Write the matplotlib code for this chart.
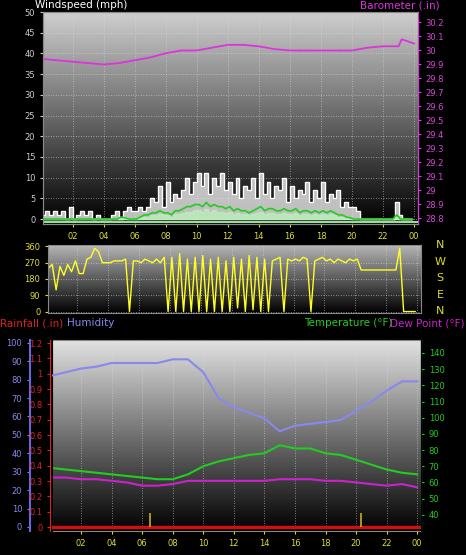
import numpy as np
import matplotlib
matplotlib.use("Agg")
import matplotlib.pyplot as plt

q = np.arange(96) * 0.25 + 0.125
gust = [1,2,1,2,1,2,0,3, 0,1,2,1,2,0,1,0, 0,0,1,2,0,2,3,2, 2,3,2,3,5,4,8,3,
        9,4,6,5,7,10,6,9, 11,8,11,6,10,8,11,7, 9,6,10,5,8,7,10,5, 11,6,9,5,8,7,10,4,
        8,5,7,6,9,4,7,5, 9,4,6,5,7,3,4,3, 3,2,0,0,0,0,0,0, 0,0,0,4,1,0,0,0]
avg = [0,0,0,0,0,0,0,0, 0,0,0,0,0,0,0,0, 0,0,0,0,0.5,0.3,0,0, 0,0.5,1,1,1.5,1.5,2,1.5,
       1.5,1,2,2,2.5,3,3,3.5, 3.5,3,4,3,3.5,3,3,2.5, 3,2,2.5,2,2,1.5,2,2.5, 3,2,2.5,2.5,2,2,2.5,2,
       2,2.5,1.5,2,2,1.5,2,1.5, 2,1.5,2,1.5,1,1,0.5,0.3, 0,0,0,0,0,0,0,0, 0,0,0,1,0,0,0,0]
wdir = [240,260,120,250,200,260,220,280, 210,210,290,300,350,330,270,270,
        270,280,280,280,290,0,280,280, 270,290,280,270,290,270,300,0,
        300,0,320,0,290,0,300,0, 310,0,290,0,300,0,280,0,
        300,20,290,0,310,10,300,0, 290,0,280,290,300,0,290,280,
        290,280,300,290,0,280,290,300, 280,290,270,290,280,270,290,280,
        290,230,230,230,230,230,230,230, 230,230,230,350,0,0,0,0]
baro_h = [0,1,2,3,4,5,6,7,8,9,10,11,12,13,14,15,16,17,18,19,20,21,22,23,23.2,24]
baro = [29.94,29.93,29.92,29.91,29.90,29.91,29.93,29.95,29.98,30.00,30.00,30.02,30.04,30.04,
        30.03,30.01,30.00,30.00,30.00,30.00,30.00,30.02,30.03,30.03,30.08,30.05]
hours = list(range(25))
hum = [82,84,86,87,89,89,89,89,91,91,84,70,65,62,59,52,55,56,57,58,63,68,74,79,79]
temp = [69,68,67,66,65,64,63,62,62,65,70,73,75,77,78,83,81,81,78,77,74,71,68,66,65]
dew = [63,63,62,62,61,60,58,58,59,61,61,61,61,61,61,62,62,62,61,61,60,59,58,59,57]
rain_marks = [6.5, 20.3]
xt = [2,4,6,8,10,12,14,16,18,20,22,24]
xtl = ["02","04","06","08","10","12","14","16","18","20","22","00"]

FS = 6
W, H = 466, 555
fig = plt.figure(figsize=(W/100, H/100), dpi=100, facecolor="black")
def ax_at(l, t, r, b):
    return fig.add_axes([l/W, 1-b/H, (r-l)/W, (b-t)/H])

grad = np.linspace(0, 1, 256).reshape(-1, 1)
def bg(ax, top):
    from matplotlib.colors import LinearSegmentedColormap
    cm = LinearSegmentedColormap.from_list("g", ["black", top])
    ax.imshow(grad, cmap=cm, aspect="auto", extent=[0,1,0,1], transform=ax.transAxes,
              origin="lower", zorder=0)
    ax.set_facecolor("black")

def style(ax, xlabels=True):
    ax.set_xlim(0.1, 24.25)
    ax.set_xticks(xt)
    ax.set_xticklabels(xtl if xlabels else [])
    ax.tick_params(axis="x", colors="#dddd33", labelsize=FS, length=2, labelcolor="#dddd33")
    ax.tick_params(axis="y", colors="#cccccc", labelsize=FS, length=2)
    ax.grid(True, color="#dddddd", linestyle=(0,(1,2)), linewidth=0.6, alpha=0.7)
    for s in ax.spines.values():
        s.set_color("#888888")

# Panel 1
a1 = ax_at(43, 12, 418, 224)
bg(a1, "#cfcfcf")
style(a1)
a1.set_ylim(-1.2, 50)
a1.set_yticks(range(0, 51, 5))
a1.fill_between(q, 0, gust, step="mid", color="#e0e0e0", alpha=0.85, zorder=2)
a1.step(q, gust, where="mid", color="white", lw=0.8, zorder=3)
a1.fill_between(q, 0, np.array(avg)*0.6, step="mid", color="#bbeebb", alpha=0.8, zorder=3)
a1.plot(q, avg, color="#22cc22", lw=1.2, zorder=4)
a1.axhline(-0.6, color="#99dd99", lw=1.5, zorder=4)
b1 = a1.twinx()
b1.set_ylim(28.76, 30.275)
bt = np.round(np.arange(28.8, 30.25, 0.1), 1)
b1.set_yticks(bt)
b1.set_yticklabels([f"{v:g}" for v in bt])
b1.tick_params(axis="y", colors="#dd44dd", labelsize=FS, length=2)
b1.plot(baro_h, baro, color="#dd33dd", lw=1.3)
for s in b1.spines.values(): s.set_color("#888888")
b1.spines["right"].set_color("#dd33dd")
fig.text(35/W, 1-0/H, "Windspeed (mph)", color="white", fontsize=7.5, va="top")
fig.text(440/W, 1-0/H, "Barometer (.in)", color="#dd33dd", fontsize=7.5, va="top", ha="right")

# Panel 2
a2 = ax_at(48, 245, 421, 313)
bg(a2, "#b5b5b5")
style(a2, xlabels=False)
a2.tick_params(axis="x", length=0)
a2.set_ylim(-8, 368)
a2.set_yticks([0,90,180,270,360])
a2.tick_params(axis="y", colors="#dddd33")
a2.plot(q, wdir, color="#ffff22", lw=1.0)
for i, t in enumerate(["N","W","S","E","N"]):
    fig.text(440/W, 1-(245+i*16.5)/H, t, color="#dddd22", fontsize=8, ha="center", va="center")

# Panel 3
a3 = ax_at(52, 340, 421, 531)
bg(a3, "#e2e2e2")
style(a3)
a3.set_ylim(30, 148)
a3.set_yticks([])
t3 = a3.twinx()
t3.set_ylim(30, 148)
t3.set_yticks(range(40, 141, 10))
t3.tick_params(axis="y", colors="#22cc22", labelsize=FS, length=2)
t3.spines["right"].set_color("#22cc22")
t3.plot(hours, temp, color="#22cc22", lw=1.5)
t3.plot(hours, dew, color="#cc22cc", lw=1.5)
hax = a3.twinx()
hax.set_ylim(-2.2, 101.5)
hax.yaxis.set_ticks_position("left")
hax.spines["left"].set_position(("axes", -0.06))
hax.spines["left"].set_color("#6666dd")
hax.spines["left"].set_linewidth(1.5)
hax.set_yticks(range(0, 101, 10))
hax.tick_params(axis="y", colors="#8888ee", labelsize=FS, length=2)
hax.plot(hours, hum, color="#8888ee", lw=1.5)
rax = a3.twinx()
rax.set_ylim(-0.026, 1.22)
rax.yaxis.set_ticks_position("left")
rax.spines["left"].set_position(("axes", -0.005))
rax.spines["left"].set_color("#dd2222")
rt = np.round(np.arange(0, 1.21, 0.1), 1)
rax.set_yticks(rt)
rax.set_yticklabels([f"{v:g}" for v in rt])
rax.tick_params(axis="y", colors="#dd2222", labelsize=FS, length=2)
rax.axhline(0, color="#cc1111", lw=2.5)
rax.vlines(rain_marks, 0, 0.09, color="#ccaa22", lw=1.2)
for ax in (t3, hax, rax):
    for k in ("top", "bottom"):
        ax.spines[k].set_visible(False)
    ax.set_xlim(0.1, 24.25)
fig.text(0/W, 1-318/H, "Rainfall (.in)", color="#dd2222", fontsize=7.5, va="top")
fig.text(67/W, 1-318/H, "Humidity", color="#8888ee", fontsize=7.5, va="top")
fig.text(392/W, 1-318/H, "Temperature (°F)", color="#22cc22", fontsize=7.5, va="top", ha="right")
fig.text(464/W, 1-318/H, "Dew Point (°F)", color="#cc22cc", fontsize=7.5, va="top", ha="right")

fig.savefig("out.png", dpi=100, facecolor="black")
